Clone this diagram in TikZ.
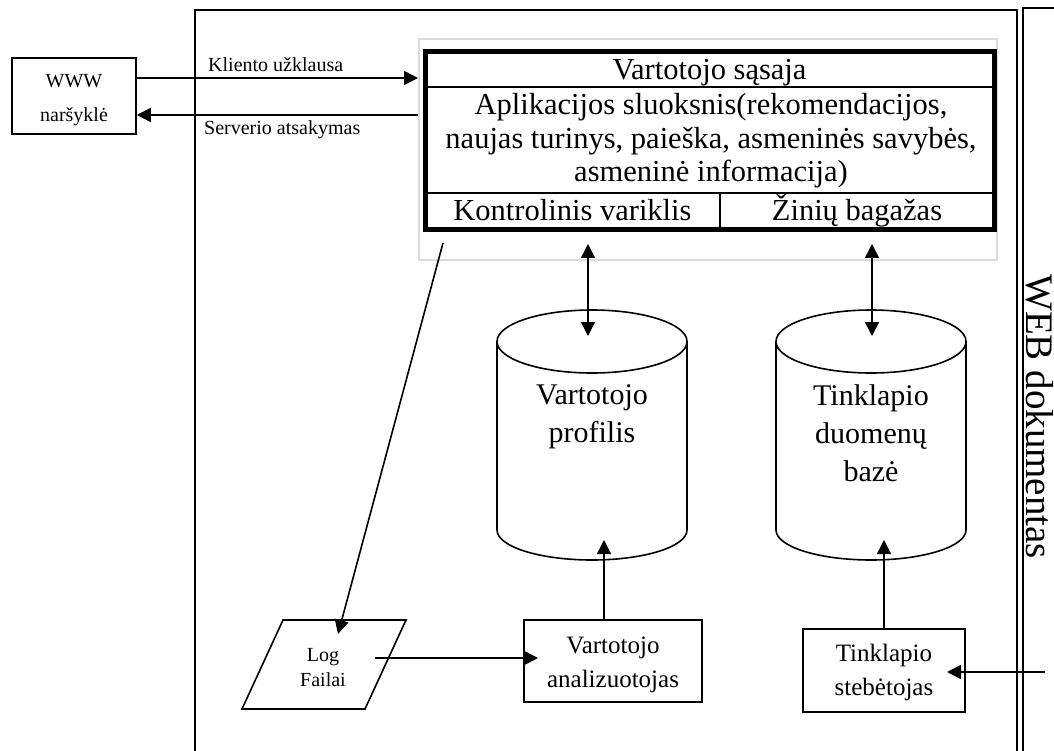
\documentclass[tikz,border=0pt]{standalone}
\usepackage{fontspec}
\setmainfont{Liberation Serif}
\usetikzlibrary{arrows.meta}
\begin{document}
\begin{tikzpicture}[x=1pt,y=-1pt,
  line/.style={line width=1.6pt},
  arr/.style={line,-{Triangle[length=14pt,width=14pt]}},
  dblarr/.style={line,{Triangle[length=14pt,width=14pt]}-{Triangle[length=14pt,width=14pt]}},
  boxed/.style={draw,line width=1.6pt,inner sep=0pt},
  txt/.style={inner sep=0pt,align=center},
  small/.style={txt,font=\fontsize{20}{34}\selectfont},
  smallb/.style={txt,font=\fontsize{20}{25}\selectfont},
  mid/.style={txt,font=\fontsize{25}{34}\selectfont},
  big/.style={txt,font=\fontsize{30.5}{33.5}\selectfont},
  cyltxt/.style={txt,font=\fontsize{30}{38}\selectfont},
]
\useasboundingbox (0,0) rectangle (1054,751);
\clip (0,0) rectangle (1054,751);

% server boundary and document column
\draw[line] (195,770) -- (195,10) -- (1017,10) -- (1017,770);
\draw[line] (1023,770) -- (1023,8) -- (1070,8);
\node[inner sep=0pt,rotate=-90,anchor=base west,font=\fontsize{39}{39}\selectfont]
  (webdoc) at (1026.5,274) {WEB dokumentas};

% browser
\node[boxed,minimum width=124pt,minimum height=76pt] (www) at (74,96) {};
\node[small] (wwwtxt) at (74,100.6) {WWW\\naršyklė};

% application block
\node[draw=black!14,line width=2pt,minimum width=578pt,minimum height=221pt,inner sep=0pt]
  (frame) at (708,149.5) {};
\node[draw,line width=5pt,minimum width=569pt,minimum height=178pt,inner sep=0pt]
  (core) at (709.5,141) {};
\draw[line width=2.4pt] (core.west |- 0,87) -- (core.east |- 0,87);
\draw[line width=2.4pt] (core.west |- 0,193) -- (core.east |- 0,193);
\draw[line width=2pt] (720,193) -- (core.south -| 720,0);
\node[big,anchor=base] (ui) at (709.5,80) {Vartotojo sąsaja};
\node[big] (app) at (711,141) {Aplikacijos sluoksnis(rekomendacijos,\\
  naujas turinys, paieška, asmeninės savybės,\\asmeninė informacija)};
\node[big,anchor=base] (ctrl) at (572.5,221) {Kontrolinis variklis};
\node[big,anchor=base] (know) at (857,221) {Žinių bagažas};

% request / response
\coordinate (reqA) at (www.east |- 0,78);
\coordinate (reqB) at (frame.west |- 0,78);
\coordinate (resA) at (frame.west |- 0,115);
\coordinate (resB) at (www.east |- 0,115);
\draw[arr] (reqA) -- (reqB);
\draw[arr] (resA) -- (resB);
\node[smallb,anchor=base west] (reqlbl) at (208,72) {Kliento užklausa};
\node[smallb,anchor=base west] (reslbl) at (204,135) {Serverio atsakymas};

% databases
\draw[line] (592,341.5) ellipse [x radius=95,y radius=31.5];
\draw[line] (497,341.5) -- (497,530) arc[start angle=180,end angle=0,x radius=95,y radius=30] -- (687,341.5);
\node[cyltxt] (profile) at (592,417) {Vartotojo\\profilis};

\draw[line] (871,341.5) ellipse [x radius=95,y radius=31.5];
\draw[line] (776,341.5) -- (776,530) arc[start angle=180,end angle=0,x radius=95,y radius=30] -- (966,341.5);
\node[cyltxt] (sitedb) at (871,433.7) {Tinklapio\\duomenų\\bazė};

\coordinate (ctrlOut) at (588,244);
\coordinate (profIn) at (588,336);
\coordinate (knowOut) at (872,244);
\coordinate (dbIn) at (872,336);
\draw[dblarr] (ctrlOut) -- (profIn);
\draw[dblarr] (knowOut) -- (dbIn);

% log files
\coordinate (lg1) at (283,620);
\coordinate (lg2) at (406,620);
\coordinate (lg3) at (365,709);
\coordinate (lg4) at (242,709);
\draw[line,line join=miter] (lg1) -- (lg2) -- (lg3) -- (lg4) -- cycle;
\node[smallb] (logs) at (323,668) {Log\\Failai};
\coordinate (logSrc) at (443,243);
\coordinate (logTip) at (338,634);
\draw[arr] (logSrc) -- (logTip);

% analysers
\node[boxed,minimum width=178pt,minimum height=82pt] (ana) at (613,661) {};
\node[mid] (anatxt) at (613,664.5) {Vartotojo\\analizuotojas};
\node[boxed,minimum width=162pt,minimum height=83pt] (mon) at (884,670.5) {};
\node[mid] (montxt) at (884,672.7) {Tinklapio\\stebėtojas};

\coordinate (logOut) at (375,658);
\coordinate (anaIn) at (538,658);
\draw[arr] (logOut) -- (anaIn);
\coordinate (profBot) at (604,540);
\draw[arr] (ana.north -| profBot) -- (profBot);
\coordinate (dbBot) at (884,540);
\draw[arr] (mon.north -| dbBot) -- (dbBot);
\coordinate (webOut) at (1045,672);
\coordinate (monIn) at (947,672);
\draw[arr] (webOut) -- (monIn);
\end{tikzpicture}
\end{document}
